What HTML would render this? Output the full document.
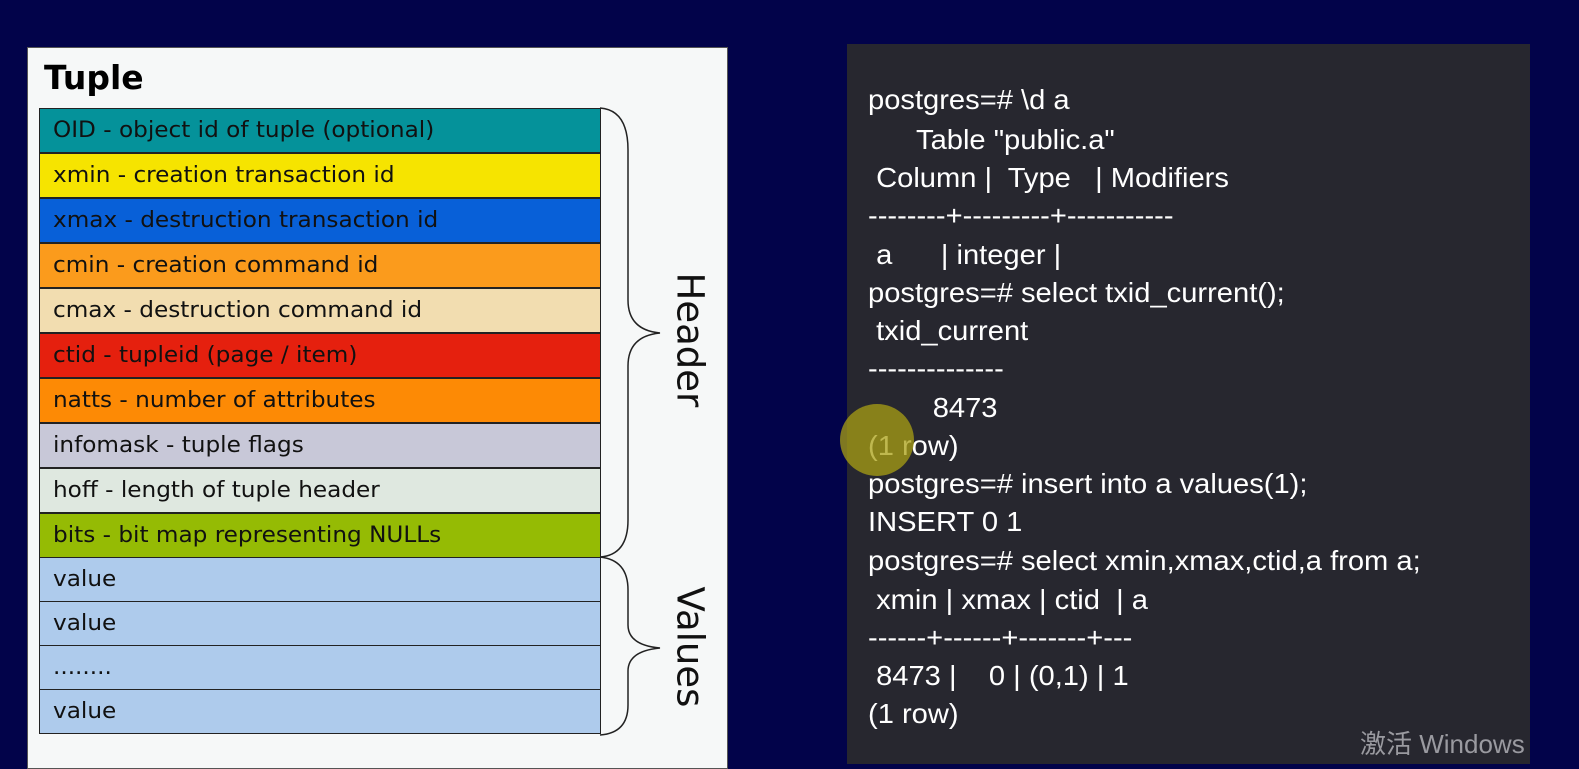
<!DOCTYPE html>
<html><head><meta charset="utf-8"><style>
body{margin:0;width:1579px;height:756px;background:#02034a;position:relative;overflow:hidden;font-family:"Liberation Sans",sans-serif}
#lp{position:absolute;left:27px;top:47px;width:699px;height:720px;background:#f6f8f8;border:1px solid #555}
.t{position:absolute;left:44px;top:58px;font:bold 33px "DejaVu Sans",sans-serif;color:#000}
.r{position:absolute;left:39px;width:562px;height:45px;border:1px solid #222;box-sizing:border-box;font:22px "DejaVu Sans Condensed","DejaVu Sans",sans-serif;line-height:43px;padding-left:13px;color:#111;white-space:nowrap}
.r span{display:inline-block;transform:scaleX(1.17);transform-origin:left}
#rp{position:absolute;left:847px;top:44px;width:683px;height:720px;background:#27272f}
.l{position:absolute;left:868px;font-size:28px;color:#fff;white-space:pre;line-height:32px;transform:scaleX(1.04);transform-origin:left}
.v{position:absolute;font:37px "DejaVu Sans",sans-serif;color:#111;transform:rotate(90deg);transform-origin:center}
</style></head><body>
<div id="lp"></div>
<div class="t">Tuple</div>
<div class="r" style="top:108px;background:#05929a"><span>OID - object id of tuple (optional)</span></div>
<div class="r" style="top:153px;background:#f6e400"><span>xmin - creation transaction id</span></div>
<div class="r" style="top:198px;background:#0860d8"><span>xmax - destruction transaction id</span></div>
<div class="r" style="top:243px;background:#fb9b1c"><span>cmin - creation command id</span></div>
<div class="r" style="top:288px;background:#f2ddb0"><span>cmax - destruction command id</span></div>
<div class="r" style="top:333px;background:#e5200e"><span>ctid - tupleid (page / item)</span></div>
<div class="r" style="top:378px;background:#fd8a05"><span>natts - number of attributes</span></div>
<div class="r" style="top:423px;background:#c8c8d8"><span>infomask - tuple flags</span></div>
<div class="r" style="top:468px;background:#dfe8e0"><span>hoff - length of tuple header</span></div>
<div class="r" style="top:513px;background:#95bb04"><span>bits - bit map representing NULLs</span></div>
<div class="r" style="top:557px;background:#aecbec"><span>value</span></div>
<div class="r" style="top:601px;background:#aecbec"><span>value</span></div>
<div class="r" style="top:645px;background:#aecbec"><span>........</span></div>
<div class="r" style="top:689px;background:#aecbec"><span>value</span></div>
<svg style="position:absolute;left:0;top:0" width="760" height="756">
<path d="M600 108 Q628 110 628 150 L628 300 Q628 330 660 333 Q628 336 628 366 L628 520 Q628 555 600 557" fill="none" stroke="#222" stroke-width="1.5"/>
<path d="M600 557 Q628 560 628 590 L628 625 Q628 645 660 648 Q628 651 628 671 L628 705 Q628 733 600 735" fill="none" stroke="#222" stroke-width="1.5"/>
</svg>
<div class="v" style="left:630px;top:311px;width:120px;text-align:center">Header</div>
<div class="v" style="left:630px;top:625px;width:120px;text-align:center">Values</div>
<div id="rp"></div>
<div class="l" style="top:84px">postgres=# \d a</div>
<div class="l" style="top:124px">      Table "public.a"</div>
<div class="l" style="top:162px"> Column |  Type   | Modifiers</div>
<div class="l" style="top:200px">--------+---------+-----------</div>
<div class="l" style="top:239px"> a      | integer |</div>
<div class="l" style="top:277px">postgres=# select txid_current();</div>
<div class="l" style="top:315px"> txid_current</div>
<div class="l" style="top:353px">--------------</div>
<div class="l" style="top:392px">        8473</div>
<div class="l" style="top:430px">(1 row)</div>
<div class="l" style="top:468px">postgres=# insert into a values(1);</div>
<div class="l" style="top:506px">INSERT 0 1</div>
<div class="l" style="top:545px">postgres=# select xmin,xmax,ctid,a from a;</div>
<div class="l" style="top:584px"> xmin | xmax | ctid  | a</div>
<div class="l" style="top:622px">------+------+-------+---</div>
<div class="l" style="top:660px"> 8473 |    0 | (0,1) | 1</div>
<div class="l" style="top:698px">(1 row)</div>
<div style="position:absolute;left:840px;top:404px;width:74px;height:72px;border-radius:50%;background:rgba(170,160,20,0.75)"></div>
<div style="position:absolute;left:1360px;top:724px;font-size:26px;color:#9a9aa0;font-family:'Liberation Sans','Noto Sans CJK SC',sans-serif">激活 Windows</div>
</body></html>
